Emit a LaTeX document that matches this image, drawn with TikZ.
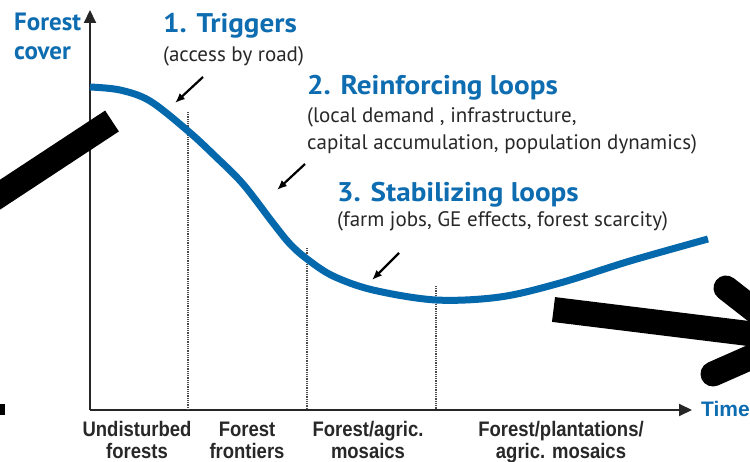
\documentclass[tikz,border=0pt]{standalone}
\usepackage{fontspec}
\setmainfont{PT Sans}
\newfontfamily\headfont[FakeStretch=1.08]{PT Sans}
\newfontfamily\labfont[FakeStretch=0.88]{Liberation Sans}
\newfontfamily\timefont{Liberation Sans}
\usetikzlibrary{arrows.meta}
\definecolor{fblue}{RGB}{14,108,176}
\definecolor{cblue}{RGB}{4,104,172}
\definecolor{tgray}{RGB}{40,40,40}
\tikzset{
  axtitle/.style={font=\bfseries\fontsize{25}{28}\selectfont, text=fblue, anchor=base west, inner sep=0pt},
  head/.style={font=\headfont\bfseries\fontsize{27}{30}\selectfont, text=fblue, anchor=base west, inner sep=0pt},
  sub/.style={font=\fontsize{21}{27}\selectfont, text=tgray, anchor=base west, inner sep=0pt},
  lab/.style={font=\labfont\bfseries\fontsize{21}{22}\selectfont, text=tgray, align=center, anchor=base, inner sep=0pt},
  axis/.style={line width=2pt, draw=black!85, -{Triangle[length=13pt,width=12pt]}},
  divider/.style={line width=1.6pt, draw=black!70, dash pattern=on 1pt off 0.8pt},
  pointer/.style={line width=2.2pt, -{Latex[length=10pt,width=8pt]}},
  bigbar/.style={line width=25pt, draw=black}
}
\begin{document}
\begin{tikzpicture}[x=1pt,y=-1pt]
\useasboundingbox (0,0) rectangle (750,462);
\fill[white] (0,0) rectangle (750,462);
% axes
\coordinate (o) at (90,410);
\coordinate (ytop) at (90,10);
\coordinate (xend) at (692,410);
\draw[axis] (o) -- (ytop);
\draw[axis] (o) -- (xend);
% dividers
\coordinate (d1t) at (188,112); \coordinate (d1b) at (188,410);
\coordinate (d2t) at (307,248); \coordinate (d2b) at (307,410);
\coordinate (d3t) at (436,286); \coordinate (d3b) at (436,410);
\draw[divider] (d1t) -- (d1b);
\draw[divider] (d2t) -- (d2b);
\draw[divider] (d3t) -- (d3b);
% curve
\draw[cblue, line width=7pt, line cap=butt] plot[smooth, tension=0.55] coordinates {
 (90,87) (120,90) (150,101) (188,131) (215,156) (243,184) (273,223) (290,244) (307,259)
 (333,276) (373,290) (436,300) (500,297) (560,283) (630,261) (708,239)};
% labels
\node[axtitle] (fc1) at (14,31) {Forest};
\node[axtitle] (fc2) at (14,60) {cover};
\node[head] (t1) at (163,33) {1. Triggers};
\node[sub] (s1) at (163,62) {(access by road)};
\node[head] (t2) at (307,95) {2. Reinforcing loops};
\node[sub] (s2) at (307,123) {(local demand , infrastructure,};
\node[sub] (s2b) at (307,150) {capital accumulation, population dynamics)};
\node[head] (t3) at (337,202) {3. Stabilizing loops};
\node[sub] (s3) at (337,227) {(farm jobs, GE effects, forest scarcity)};
% pointers
\coordinate (p1s) at (203,77); \coordinate (p1e) at (175,103);
\coordinate (p2s) at (305,164); \coordinate (p2e) at (277,190);
\coordinate (p3s) at (399,253); \coordinate (p3e) at (372,280);
\draw[pointer] (p1s) -- (p1e);
\draw[pointer] (p2s) -- (p2e);
\draw[pointer] (p3s) -- (p3e);
% bottom labels (anchor = baseline of last line)
\node[lab] (l1) at (137,458) {Undisturbed\\forests};
\node[lab] (l2) at (247,458) {Forest\\frontiers};
\node[lab] (l3) at (368,458) {Forest/agric.\\mosaics};
\node[lab] (l4) at (561,458) {Forest/plantations/\\agric. mosaics};
\node[font=\timefont\bfseries\fontsize{21}{22}\selectfont, text=fblue, anchor=base west, inner sep=0pt] (time) at (701,417) {Time};
% big black strokes
\coordinate (b1a) at (112,121); \coordinate (b1b) at (-40,221);
\draw[bigbar, line cap=butt] (b1a) -- (b1b);
\fill[black] (-2,404) rectangle (5,415);
\coordinate (b2a) at (553.5,309.5); \coordinate (b2b) at (785,338);
\draw[bigbar, line cap=butt] (b2a) -- (b2b);
\coordinate (h1a) at (726,288); \coordinate (h1b) at (790,338);
\coordinate (h2a) at (713,374); \coordinate (h2b) at (790,340);
\draw[bigbar, line cap=round] (h1a) -- (h1b);
\draw[bigbar, line cap=round] (h2a) -- (h2b);
\end{tikzpicture}
\end{document}
